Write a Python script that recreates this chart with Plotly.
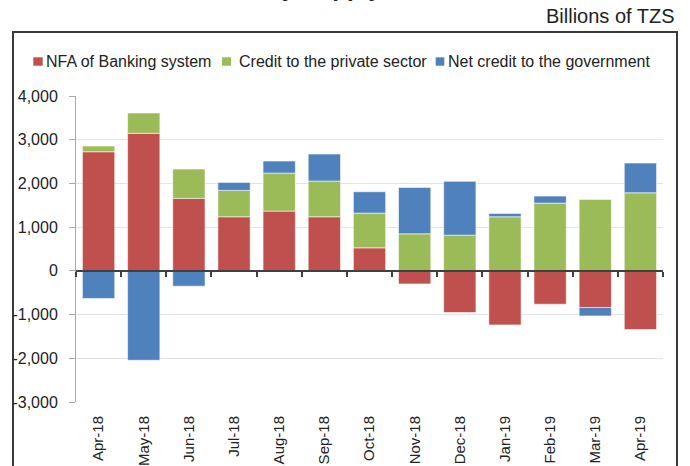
import plotly.graph_objects as go

# Monthly contributions (billions of TZS)
months = ["Apr-18", "May-18", "Jun-18", "Jul-18", "Aug-18", "Sep-18", "Oct-18",
          "Nov-18", "Dec-18", "Jan-19", "Feb-19", "Mar-19", "Apr-19"]
nfa_banking = [2725, 3146, 1658, 1237, 1367, 1237, 527, -298, -953, -1236, -763, -839, -1342]
credit_private = [130, 465, 671, 604, 870, 817, 794, 847, 817, 1237, 1550, 1634, 1786]
credit_government = [-632, -2045, -350, 183, 275, 618, 488, 1062, 1230, 77, 160, -192, 680]

series_names = ["NFA of Banking system", "Credit to the private sector", "Net credit to the government"]
series_values = [nfa_banking, credit_private, credit_government]
series_colors = ["#C0504D", "#9BBB59", "#4F81BD"]

y_ticks = [-3000, -2000, -1000, 0, 1000, 2000, 3000, 4000]
y_ticktext = [f"{v:,}" for v in y_ticks]

W, H = 690, 466
L, R, T, B = 76, 27, 96, 64
PW, PH = W - L - R, H - T - B
FONT = "Liberation Sans, Arial, sans-serif"


def px_x(p):
    return (p - L) / PW


def px_y(p):
    return (T + PH - p) / PH


fig = go.Figure()
for name, vals, col in zip(series_names, series_values, series_colors):
    fig.add_trace(go.Bar(
        x=months, y=vals, name=name,
        marker=dict(color=col, line=dict(color="rgba(255,255,255,0.55)", width=1)),
        showlegend=False,
    ))

# empty trace so the zero-line axis with boundary ticks is drawn
n = len(months)
boundaries = [i - 0.5 for i in range(n + 1)]
fig.add_trace(go.Scatter(x=[], y=[], xaxis="x2", yaxis="y", showlegend=False, hoverinfo="skip"))

zero_pos = (0 - y_ticks[0]) / (y_ticks[-1] - y_ticks[0])

fig.update_layout(
    width=W, height=H,
    margin=dict(l=L, r=R, t=T, b=B, autoexpand=False),
    paper_bgcolor="white", plot_bgcolor="white",
    barmode="relative", bargap=0.285,
    font=dict(family=FONT, color="#222222"),
    xaxis=dict(
        type="category", range=[-0.5, n - 0.5], automargin=False,
        showline=False, showgrid=False, zeroline=False, ticks="",
        tickangle=-90, tickfont=dict(size=15, color="#222222"),
        ticklabelstandoff=10,
    ),
    xaxis2=dict(
        overlaying="x", anchor="free", position=zero_pos, type="linear",
        range=[-0.5, n - 0.5], tickmode="array", tickvals=boundaries,
        ticks="outside", ticklen=5, tickwidth=1.5, tickcolor="#404040",
        showline=True, linecolor="#404040", linewidth=2, automargin=False,
        showticklabels=False, showgrid=False, zeroline=False,
    ),
    yaxis=dict(
        range=[y_ticks[0], y_ticks[-1]], tickmode="array", automargin=False,
        tickvals=y_ticks, ticktext=y_ticktext,
        showgrid=True, gridcolor="#e3e3e3", gridwidth=1,
        zeroline=False, showline=True, linecolor="#a8a8a8", linewidth=1,
        ticks="outside", ticklen=6, tickcolor="#a8a8a8",
        tickfont=dict(size=16, color="#222222"), ticklabelstandoff=8,
    ),
)

shapes = [
    # outer frame
    dict(type="rect", xref="paper", yref="paper",
         x0=px_x(13), x1=px_x(677), y0=px_y(475), y1=px_y(32),
         line=dict(color="#3a3a3a", width=2), fillcolor="rgba(0,0,0,0)", layer="below"),
]
annotations = [
    dict(text="Billions of TZS", xref="paper", yref="paper",
         x=px_x(677), y=px_y(16), xanchor="right", yanchor="middle",
         showarrow=False, font=dict(size=20, color="#222222")),
    dict(text="<b>Money Supply</b>", xref="paper", yref="paper",
         x=px_x(384), y=px_y(-12), xanchor="right", yanchor="middle",
         showarrow=False, font=dict(size=24, color="#222222")),
]

# legend row: colour squares with labels
legend_sq = [(33.3, 42.7), (222.0, 231.0), (435.7, 444.3)]
legend_tx = [44, 237, 446]
for name, col, (sx0, sx1), tx in zip(series_names, series_colors, legend_sq, legend_tx):
    shapes.append(dict(type="rect", xref="paper", yref="paper",
                       x0=px_x(sx0), x1=px_x(sx1), y0=px_y(65.7), y1=px_y(57.3),
                       line=dict(width=0), fillcolor=col))
    annotations.append(dict(text=name, xref="paper", yref="paper",
                            x=px_x(tx), y=px_y(61.7), xanchor="left", yanchor="middle",
                            showarrow=False, font=dict(size=16, color="#222222")))

fig.update_layout(shapes=shapes, annotations=annotations)

fig.write_html("out.html")
